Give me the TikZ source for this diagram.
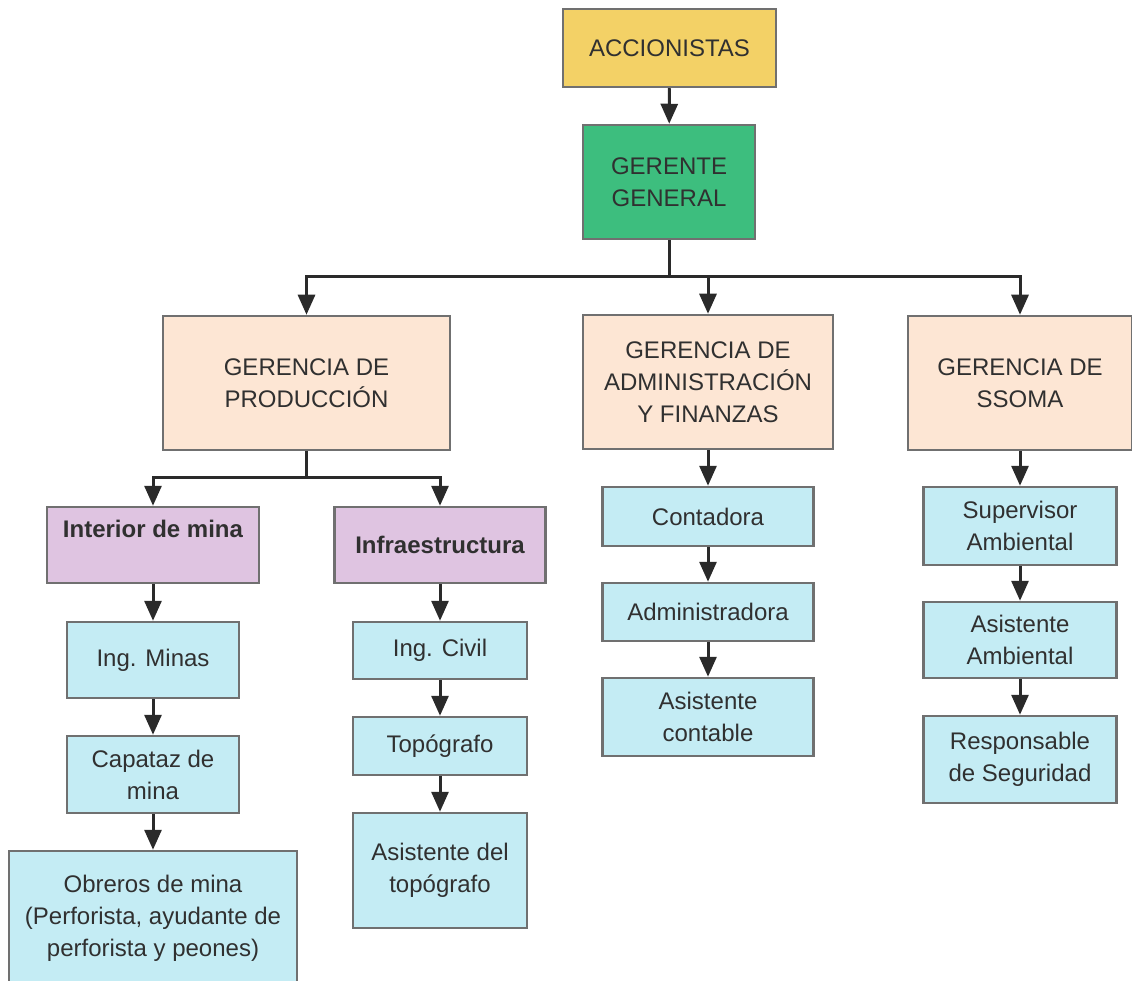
\documentclass[tikz,border=0pt]{standalone}
\usepackage{fontspec}
\setmainfont{Liberation Sans}
\usetikzlibrary{arrows.meta}

\definecolor{accyellow}{HTML}{F3D166}
\definecolor{gergreen}{HTML}{3DBE7E}
\definecolor{gerpeach}{HTML}{FDE6D4}
\definecolor{areapurple}{HTML}{DFC4E1}
\definecolor{staffblue}{HTML}{C4ECF4}
\definecolor{boxline}{HTML}{707070}
\definecolor{wiregray}{HTML}{2A2A2A}
\definecolor{textgray}{HTML}{303030}

\begin{document}
\begin{tikzpicture}[x=1pt,y=-1pt,
	box/.style={draw=boxline, line width=2.5pt, align=center, inner sep=0pt,
		text=textgray, font=\fontsize{24}{32}\selectfont},
	wire/.style={draw=wiregray, line width=3pt},
	link/.style={wire, -{Triangle[length=20pt,width=17pt]}}]
	\useasboundingbox (0,0) rectangle (1132,981);
	% top
	\node[box, fill=accyellow, minimum width=213pt, minimum height=78pt] (acc) at (669.5,48) {ACCIONISTAS};
	\node[box, fill=gergreen, minimum width=172pt, minimum height=114pt] (gg) at (669,182) {GERENTE\\GENERAL};
	% gerencias
	\node[box, fill=gerpeach, minimum width=287pt, minimum height=134pt] (prod) at (306.5,383) {GERENCIA DE\\PRODUCCIÓN};
	\node[box, fill=gerpeach, minimum width=250pt, minimum height=134pt] (adm) at (708,382) {GERENCIA DE\\ADMINISTRACIÓN\\Y FINANZAS};
	\node[box, fill=gerpeach, minimum width=224pt, minimum height=134pt] (ssoma) at (1020,383) {GERENCIA DE\\SSOMA};
	% produccion
	\node[box, fill=areapurple, minimum width=212pt, minimum height=76pt] (intm) at (153,545) {\bfseries Interior de mina\\ \mbox{}};
	\node[box, fill=areapurple, minimum width=211pt, minimum height=76pt] (infra) at (440,545) {\bfseries Infraestructura};
	\node[box, fill=staffblue, minimum width=172pt, minimum height=76pt] (ingmin) at (153,660) {Ing. Minas};
	\node[box, fill=staffblue, minimum width=172pt, minimum height=77pt] (capataz) at (153,774.5) {Capataz de\\mina};
	\node[box, fill=staffblue, minimum width=288pt, minimum height=134pt] (obreros) at (153,918) {Obreros de mina\\(Perforista, ayudante de\\perforista y peones)};
	\node[box, fill=staffblue, minimum width=174pt, minimum height=57pt] (ingcivil) at (440,650.5) {Ing. Civil};
	\node[box, fill=staffblue, minimum width=174pt, minimum height=58pt] (topo) at (440,746) {Topógrafo};
	\node[box, fill=staffblue, minimum width=174pt, minimum height=115pt] (asistopo) at (440,870.5) {Asistente del\\topógrafo};
	% administracion
	\node[box, fill=staffblue, minimum width=211pt, minimum height=59pt] (conta) at (708,516.5) {Contadora};
	\node[box, fill=staffblue, minimum width=211pt, minimum height=58pt] (admra) at (708,612) {Administradora};
	\node[box, fill=staffblue, minimum width=211pt, minimum height=78pt] (asiscont) at (708,717) {Asistente\\contable};
	% ssoma
	\node[box, fill=staffblue, minimum width=193pt, minimum height=78pt] (sup) at (1020,526) {Supervisor\\Ambiental};
	\node[box, fill=staffblue, minimum width=193pt, minimum height=76pt] (asisamb) at (1020,640) {Asistente\\Ambiental};
	\node[box, fill=staffblue, minimum width=193pt, minimum height=87pt] (resp) at (1020,759.5) {Responsable\\de Seguridad};
	% conexiones
	\coordinate (topbus) at (669,277);
	\coordinate (prodbus) at (306.5,477);
	\draw[link] (acc) -- (gg);
	\draw[wire] (gg) -- (topbus);
	\foreach \g in {prod,adm,ssoma}
		\draw[link] (topbus) -| (\g);
	\draw[wire] (prod) -- (prodbus);
	\foreach \a in {intm,infra}
		\draw[link] (prodbus) -| (\a);
	\foreach \a/\b in {intm/ingmin,ingmin/capataz,capataz/obreros,
		infra/ingcivil,ingcivil/topo,topo/asistopo,
		adm/conta,conta/admra,admra/asiscont,
		ssoma/sup,sup/asisamb,asisamb/resp}
		\draw[link] (\a) -- (\b);
\end{tikzpicture}
\end{document}
